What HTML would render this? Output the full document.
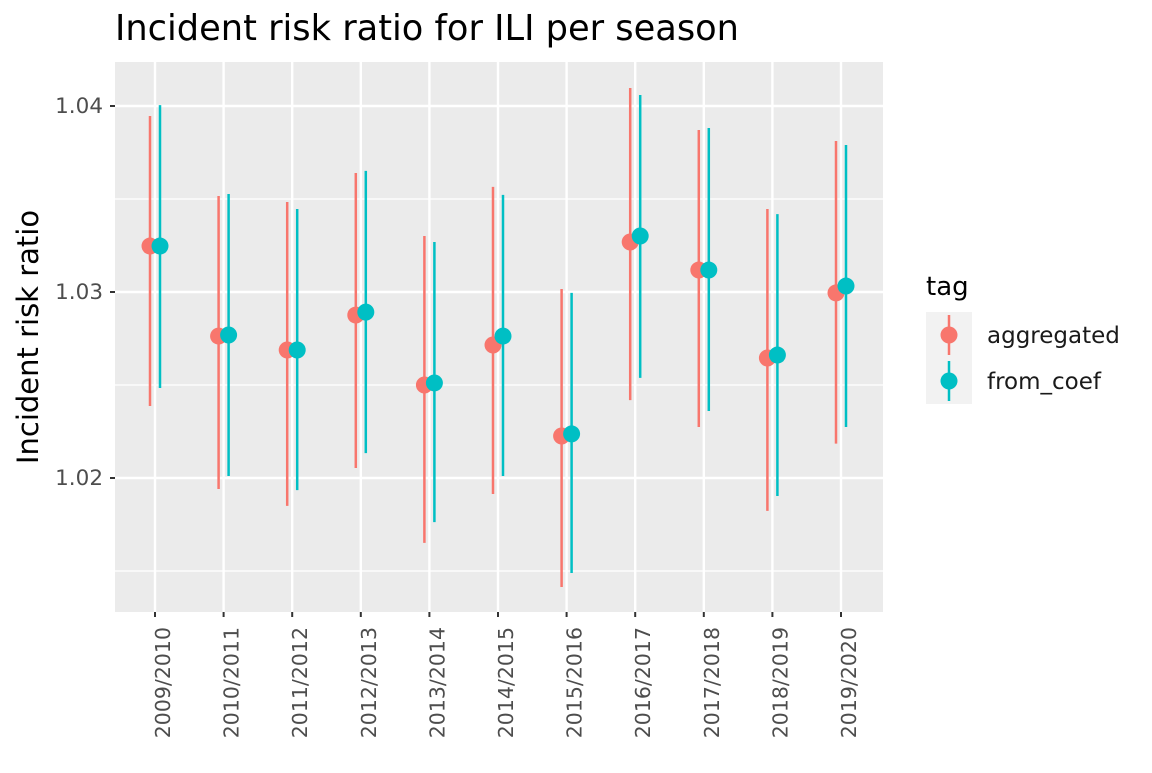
<!DOCTYPE html>
<html><head><meta charset="utf-8"><style>
body{margin:0;background:#fff;}
svg text{font-family:"DejaVu Sans","Liberation Sans",sans-serif;}
</style></head><body>
<svg id="c" width="1152" height="768" xmlns="http://www.w3.org/2000/svg">
<text x="115" y="40" font-size="35.2" fill="#000">Incident risk ratio for ILI per season</text>
<rect x="115" y="62" width="768" height="550" fill="#EBEBEB"/>
<g id="grid"></g><g id="marks"></g><g id="axes"></g>
<text transform="translate(38,337) rotate(-90)" text-anchor="middle" font-size="29" fill="#000">Incident risk ratio</text>
<g>
<text x="926" y="295" font-size="26" fill="#000">tag</text>
<rect x="926" y="312" width="46" height="92" fill="#F2F2F2"/>
<g><line x1="949" y1="315" x2="949" y2="355" stroke="#F8766D" stroke-width="2.5"/><circle cx="949" cy="335" r="8.5" fill="#F8766D"/><text x="987" y="343" font-size="23" fill="#1a1a1a">aggregated</text></g>
<g><line x1="949" y1="361" x2="949" y2="401" stroke="#00BFC4" stroke-width="2.5"/><circle cx="949" cy="381" r="8.5" fill="#00BFC4"/><text x="987" y="389" font-size="23" fill="#1a1a1a">from_coef</text></g>
</g>
</svg>
<script>
const categories=["2009/2010","2010/2011","2011/2012","2012/2013","2013/2014","2014/2015","2015/2016","2016/2017","2017/2018","2018/2019","2019/2020"];
const aggEst=[1.03247,1.02763,1.02688,1.02876,1.0250,1.02715,1.02226,1.03269,1.03118,1.02645,1.02995];
const aggHi=[1.03946,1.03516,1.03484,1.0364,1.03301,1.03565,1.03016,1.04097,1.03871,1.03446,1.03812];
const aggLo=[1.02387,1.01941,1.0185,1.02054,1.01651,1.01914,1.01414,1.02419,1.02274,1.01823,1.02185];
const coefEst=[1.03247,1.02769,1.02688,1.02892,1.02511,1.02763,1.02237,1.03301,1.03118,1.02661,1.03032];
const coefHi=[1.04005,1.03527,1.03446,1.03651,1.03269,1.03522,1.02995,1.04059,1.03882,1.03419,1.0379];
const coefLo=[1.02484,1.02011,1.01935,1.02134,1.01763,1.02011,1.01489,1.02538,1.0236,1.01903,1.02274];
const yTicks=[1.02,1.03,1.04];
const yMinor=[1.015,1.025,1.035];
const NS="http://www.w3.org/2000/svg";
const y=v=>292-(v-1.03)*18600;
const x=i=>155+i*68.6;
function mk(tag,attrs,parent){const e=document.createElementNS(NS,tag);for(const k in attrs)e.setAttribute(k,attrs[k]);document.getElementById(parent).appendChild(e);return e;}
yMinor.forEach(v=>{const l=mk('line',{x1:115,x2:883,y1:y(v),y2:y(v),stroke:'#fff','stroke-width':1.2},'grid');

});
yTicks.forEach(v=>{const l=mk('line',{x1:115,x2:883,y1:y(v),y2:y(v),stroke:'#fff','stroke-width':2.4},'grid');


const t=mk('line',{x1:110,x2:115,y1:y(v),y2:y(v),stroke:'#333','stroke-width':2},'axes');


const tx=mk('text',{x:103,y:y(v)+7,'text-anchor':'end','font-size':21.5,fill:'#4d4d4d'},'axes');tx.textContent=v.toFixed(2);

});
categories.forEach((c,i)=>{const l=mk('line',{x1:x(i),x2:x(i),y1:62,y2:612,stroke:'#fff','stroke-width':2.4},'grid');


const t=mk('line',{x1:x(i),x2:x(i),y1:612,y2:617,stroke:'#333','stroke-width':2},'axes');


const tx=mk('text',{transform:`translate(${x(i)+15},627) rotate(-90)`,'text-anchor':'end','font-size':20.5,fill:'#4d4d4d'},'axes');tx.textContent=c;

});
function series(est,lo,hi,off,col,name){est.forEach((v,i)=>{const cx=x(i)+off;
const l=mk('line',{x1:cx,x2:cx,y1:y(hi[i]),y2:y(lo[i]),stroke:col,'stroke-width':2.5},'marks');


const p=mk('circle',{cx:cx,cy:y(v),r:8.5,fill:col},'marks');

});}
series(aggEst,aggLo,aggHi,-5,'#F8766D','aggregated');
series(coefEst,coefLo,coefHi,5,'#00BFC4','from-coef');
</script>
</body></html>
